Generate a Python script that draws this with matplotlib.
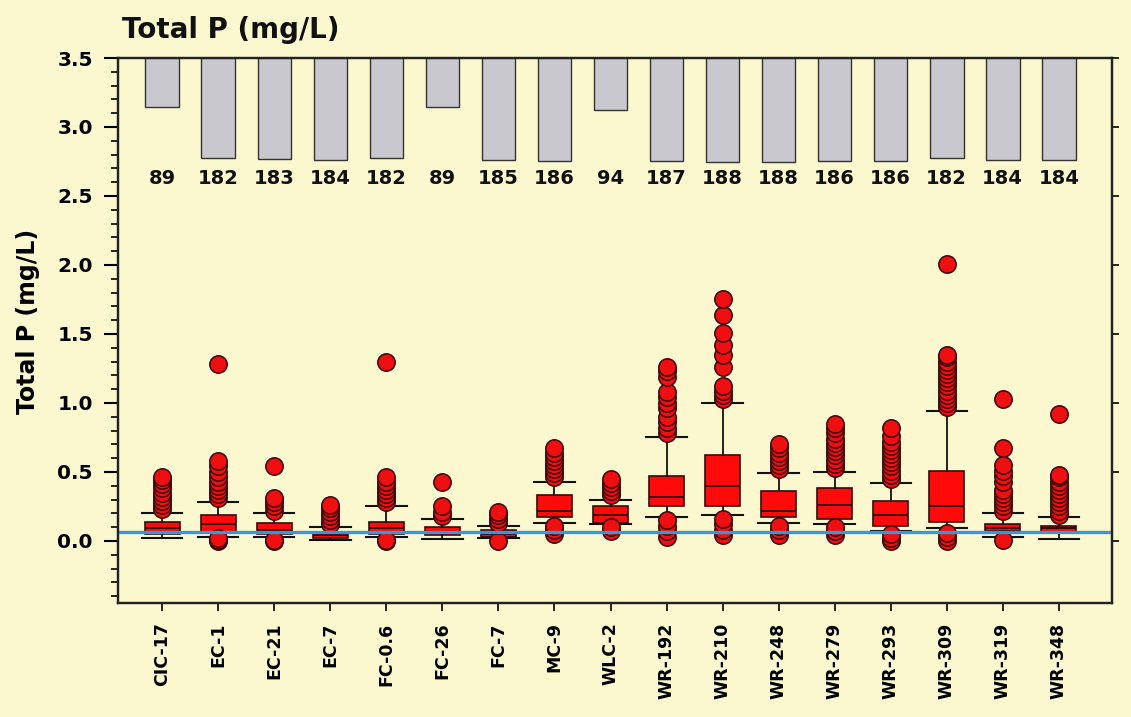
import matplotlib
matplotlib.use("Agg")
import matplotlib.pyplot as plt
from matplotlib.ticker import MultipleLocator, FormatStrFormatter

stations = ["CIC-17", "EC-1", "EC-21", "EC-7", "FC-0.6", "FC-26", "FC-7", "MC-9",
            "WLC-2", "WR-192", "WR-210", "WR-248", "WR-279", "WR-293", "WR-309",
            "WR-319", "WR-348"]
counts = [89, 182, 183, 184, 182, 89, 185, 186, 94, 187, 188, 188, 186, 186, 182, 184, 184]

whislo = [0.02, 0.03, 0.03, 0.01, 0.03, 0.015, 0.02, 0.13, 0.12, 0.17, 0.19, 0.13, 0.12, 0.07, 0.09, 0.03, 0.015]
q1 = [0.05, 0.06, 0.05, 0.02, 0.05, 0.04, 0.03, 0.17, 0.13, 0.25, 0.25, 0.17, 0.16, 0.11, 0.14, 0.07, 0.065]
med = [0.09, 0.12, 0.08, 0.04, 0.09, 0.06, 0.05, 0.22, 0.19, 0.32, 0.40, 0.22, 0.26, 0.19, 0.25, 0.09, 0.09]
q3 = [0.14, 0.19, 0.13, 0.06, 0.14, 0.10, 0.08, 0.33, 0.25, 0.47, 0.62, 0.36, 0.38, 0.29, 0.51, 0.12, 0.11]
whishi = [0.20, 0.28, 0.20, 0.10, 0.25, 0.16, 0.11, 0.43, 0.30, 0.75, 1.00, 0.49, 0.50, 0.42, 0.94, 0.20, 0.17]
fliers = [
    [0.23, 0.26, 0.29, 0.32, 0.35, 0.38, 0.41, 0.44, 0.46],
    [0.00, 0.01, 0.02, 0.31, 0.34, 0.37, 0.40, 0.43, 0.46, 0.50, 0.54, 0.58, 1.28],
    [0.00, 0.01, 0.22, 0.25, 0.28, 0.31, 0.54],
    [0.12, 0.15, 0.18, 0.21, 0.24, 0.26],
    [0.00, 0.01, 0.28, 0.31, 0.34, 0.37, 0.40, 0.43, 0.46, 1.30],
    [0.18, 0.21, 0.25, 0.43],
    [0.00, 0.13, 0.16, 0.19, 0.21],
    [0.05, 0.08, 0.11, 0.46, 0.49, 0.52, 0.55, 0.58, 0.61, 0.64, 0.67],
    [0.07, 0.10, 0.33, 0.36, 0.39, 0.42, 0.45],
    [0.03, 0.07, 0.11, 0.15, 0.78, 0.82, 0.86, 0.90, 0.96, 1.00, 1.04, 1.08, 1.19, 1.23, 1.26],
    [0.04, 0.08, 0.12, 0.16, 1.03, 1.06, 1.09, 1.12, 1.26, 1.35, 1.42, 1.51, 1.64, 1.75],
    [0.04, 0.08, 0.11, 0.52, 0.55, 0.58, 0.61, 0.64, 0.67, 0.70],
    [0.04, 0.07, 0.10, 0.53, 0.56, 0.59, 0.62, 0.65, 0.68, 0.71, 0.74, 0.78, 0.82, 0.85],
    [0.00, 0.02, 0.05, 0.45, 0.48, 0.51, 0.54, 0.57, 0.60, 0.63, 0.66, 0.69, 0.72, 0.76, 0.82],
    [0.00, 0.03, 0.06, 0.97, 1.00, 1.03, 1.06, 1.09, 1.12, 1.15, 1.18, 1.21, 1.24, 1.27, 1.30, 1.33, 1.35, 2.01],
    [0.01, 0.22, 0.25, 0.28, 0.31, 0.34, 0.37, 0.43, 0.47, 0.51, 0.55, 0.67, 1.03],
    [0.19, 0.22, 0.25, 0.28, 0.31, 0.34, 0.37, 0.40, 0.43, 0.46, 0.48, 0.92],
]
reference_level = 0.065
y_ticks = [0.0, 0.5, 1.0, 1.5, 2.0, 2.5, 3.0, 3.5]

BG = "#FBF8D0"
plt.rcParams["font.family"] = ["DejaVu Sans"]
plt.rcParams["font.weight"] = "bold"

fig = plt.figure(figsize=(11.31, 7.17), dpi=100, facecolor=BG)
ax = fig.add_axes([118 / 1131, 1 - 603 / 717, (1112 - 118) / 1131, (603 - 58) / 717])
ax.set_facecolor(BG)

pos = list(range(len(stations)))
stats = []
for i in pos:
    stats.append(dict(whislo=whislo[i], q1=q1[i], med=med[i], q3=q3[i],
                      whishi=whishi[i], fliers=fliers[i], label=stations[i]))

ax.bxp(stats, positions=pos, widths=0.62, capwidths=0.72, patch_artist=True,
       boxprops=dict(facecolor="#FF0A0A", edgecolor="#3a0808", linewidth=1.2),
       medianprops=dict(color="#300000", linewidth=1.3),
       whiskerprops=dict(color="#111111", linewidth=1.3),
       capprops=dict(color="#111111", linewidth=1.5),
       flierprops=dict(marker="o", markerfacecolor="#EE1010", markeredgecolor="#3a0505",
                       markersize=12.5, markeredgewidth=1.1, linestyle="none"))

# reference line
ax.axhline(reference_level, color="#3b95d8", linewidth=2.4, zorder=5)

# sample count bars hanging from the top
scale = 0.004
top = 3.5
heights = [c * scale for c in counts]
ax.bar(pos, heights, width=0.6, bottom=[top - h for h in heights],
       color="#C9C8CF", edgecolor="#333333", linewidth=1.0, zorder=3)
for i, c in zip(pos, counts):
    ax.text(i, 2.63, str(c), ha="center", va="center", fontsize=14,
            fontweight="bold", color="#111111")

ax.set_xlim(-0.79, 16.95)
ax.set_ylim(-0.45, 3.5)
ax.set_xticks(pos)
ax.set_xticklabels(stations, rotation=90, fontsize=12.5, fontweight="bold")
ax.set_yticks(y_ticks)
ax.yaxis.set_major_formatter(FormatStrFormatter("%.1f"))
ax.yaxis.set_minor_locator(MultipleLocator(0.1))
for lab in ax.get_yticklabels():
    lab.set_fontweight("bold")
ax.tick_params(axis="y", which="major", direction="out", length=10, width=1.5,
               labelsize=14.5, pad=8)
ax.tick_params(axis="y", which="minor", direction="out", length=5, width=1.2)
ax.tick_params(axis="x", direction="out", length=6, width=1.2, pad=8)

for s in ax.spines.values():
    s.set_linewidth(1.6)
    s.set_color("#222222")

# small right-side ticks
axr = ax.twinx()
axr.set_ylim(ax.get_ylim())
axr.set_yticks(y_ticks)
axr.set_yticklabels([])
axr.tick_params(axis="y", direction="out", length=5, width=1.2)
for s in axr.spines.values():
    s.set_linewidth(1.6)
    s.set_color("#222222")

ax.set_ylabel("Total P (mg/L)", fontsize=17, fontweight="bold")
ax.yaxis.set_label_coords(-0.0785, 0.516)

fig.text(122 / 1131, 1 - 30 / 717, "Total P (mg/L)", ha="left", va="center",
         fontsize=20, fontweight="bold", color="#111111")

fig.savefig("out.png", dpi=100, facecolor=BG)
